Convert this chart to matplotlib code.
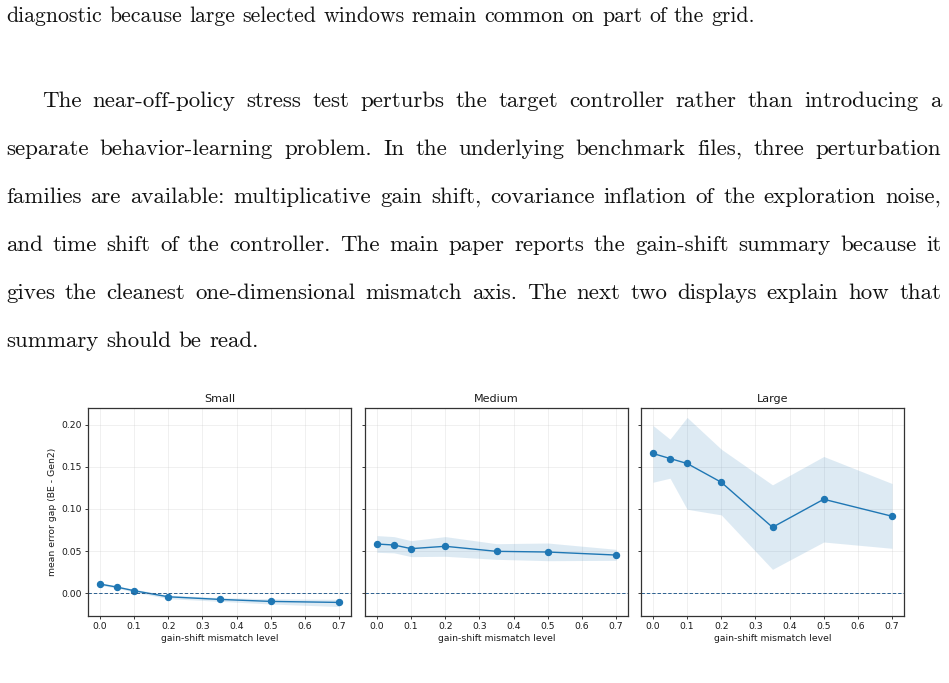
import matplotlib
matplotlib.use("Agg")
import matplotlib.pyplot as plt
import numpy as np

# ---------------- data ----------------
levels = [0.0, 0.05, 0.1, 0.2, 0.35, 0.5, 0.7]
panel_titles = ["Small", "Medium", "Large"]

small_mean = [0.0107, 0.0071, 0.0028, -0.0044, -0.0075, -0.0099, -0.0111]
small_lo = [0.0092, 0.0058, 0.0012, -0.0066, -0.0098, -0.0130, -0.0160]
small_hi = [0.0122, 0.0084, 0.0046, -0.0024, -0.0054, -0.0068, -0.0074]

medium_mean = [0.0583, 0.0571, 0.0528, 0.0556, 0.0496, 0.0488, 0.0452]
medium_lo = [0.0484, 0.0478, 0.0433, 0.0437, 0.0401, 0.0385, 0.0389]
medium_hi = [0.0683, 0.0671, 0.0623, 0.0671, 0.0587, 0.0595, 0.0520]

large_mean = [0.1659, 0.1599, 0.1540, 0.1317, 0.0782, 0.1115, 0.0913]
large_lo = [0.1317, 0.1365, 0.0996, 0.0929, 0.0282, 0.0607, 0.0532]
large_hi = [0.1992, 0.1829, 0.2087, 0.1710, 0.1286, 0.1623, 0.1302]

means = [small_mean, medium_mean, large_mean]
los = [small_lo, medium_lo, large_lo]
his = [small_hi, medium_hi, large_hi]

xticks = [0.0, 0.1, 0.2, 0.3, 0.4, 0.5, 0.6, 0.7]
yticks = [0.00, 0.05, 0.10, 0.15, 0.20]
ylabel = "mean error gap (BE - Gen2)"
xlabel = "gain-shift mismatch level"

top_line = "diagnostic because large selected windows remain common on part of the grid."
para_lines = [
    "The near-off-policy stress test perturbs the target controller rather than introducing a",
    "separate behavior-learning problem. In the underlying benchmark files, three perturbation",
    "families are available: multiplicative gain shift, covariance inflation of the exploration noise,",
    "and time shift of the controller. The main paper reports the gain-shift summary because it",
    "gives the cleanest one-dimensional mismatch axis. The next two displays explain how that",
    "summary should be read.",
]

# ---------------- figure ----------------
W, H = 949, 683
fig = plt.figure(figsize=(W / 100, H / 100), dpi=100)
fig.patch.set_facecolor("white")
renderer = fig.canvas.get_renderer()

TEXT_FONT = "cmr10"
TEXT_COLOR = "#111111"
PX_PER_PT = 100 / 72.0
FS = 16.55                     # paragraph text size
SPACE = 0.3333 * FS * PX_PER_PT


def px2fig(x, y):
    return x / W, 1 - y / H


def word_width(word, fs):
    t = fig.text(0, 0, word, fontsize=fs, family=TEXT_FONT)
    w = t.get_window_extent(renderer).width
    t.remove()
    return w


# the top (carried-over) line: size so that it spans 6 px .. 755 px
top_words = top_line.split(" ")
w10 = sum(word_width(w, 10) for w in top_words)
FS_TOP = 749.0 / (w10 / 10 + (len(top_words) - 1) * 0.3333 * PX_PER_PT)


def draw_line(words_line, x0, baseline, fs, x1=None):
    words = words_line.split(" ")
    texts = []
    widths = []
    for w in words:
        t = fig.text(0, 0, w, fontsize=fs, family=TEXT_FONT, color=TEXT_COLOR,
                     va="baseline", ha="left")
        texts.append(t)
        widths.append(t.get_window_extent(renderer).width)
    if x1 is not None and len(words) > 1:
        gap = (x1 - x0 - sum(widths)) / (len(words) - 1)
    else:
        gap = 0.3333 * fs * PX_PER_PT
    x = x0
    for t, wd in zip(texts, widths):
        t.set_position(px2fig(x, baseline))
        x += wd + gap


draw_line(top_line, 6, 22, FS_TOP, 755)
base0 = 107
step = 48
for i, line in enumerate(para_lines):
    x0 = 42 if i == 0 else 6
    last = i == len(para_lines) - 1
    draw_line(line, x0, base0 + i * step, FS, None if last else 941)

# ---------------- chart ----------------
axes_left_px = [88, 365, 641]
ax_w_px = 263
ax_top_px, ax_bot_px = 408, 616
C0 = "#1f77b4"
LAB_FS = 6.7
axes = []
for k in range(3):
    l, b = px2fig(axes_left_px[k], ax_bot_px)
    ax = fig.add_axes([l, b, ax_w_px / W, (ax_bot_px - ax_top_px) / H],
                      sharey=axes[0] if axes else None)
    axes.append(ax)
    ax.fill_between(levels, los[k], his[k], color=C0, alpha=0.15, linewidth=0)
    ax.plot(levels, means[k], color=C0, marker="o", linewidth=1.0, markersize=4.3)
    ax.axhline(0, color="#2a5f8f", linestyle="--", linewidth=0.7, dashes=(3.5, 2))
    ax.set_xticks(xticks)
    ax.set_xticklabels([f"{v:.1f}" for v in xticks])
    ax.set_yticks(yticks)
    ax.set_title(panel_titles[k], fontsize=8, pad=4, color="#1a1a1a")
    ax.set_xlabel(xlabel, fontsize=LAB_FS, labelpad=2, color="#1a1a1a")
    ax.grid(True, color="#cccccc", alpha=0.35, linewidth=0.6)
    ax.set_axisbelow(True)
    ax.tick_params(labelsize=LAB_FS, length=2.4, width=0.6, pad=2,
                   colors="#1a1a1a")
    for s in ax.spines.values():
        s.set_color("#333333")
        s.set_linewidth(0.9)
    if k == 0:
        ax.set_ylabel(ylabel, fontsize=LAB_FS, labelpad=3, color="#1a1a1a")
        ax.set_yticklabels([f"{v:.2f}" for v in yticks])
    else:
        ax.tick_params(labelleft=False)

fig.savefig("out.png", dpi=100)
